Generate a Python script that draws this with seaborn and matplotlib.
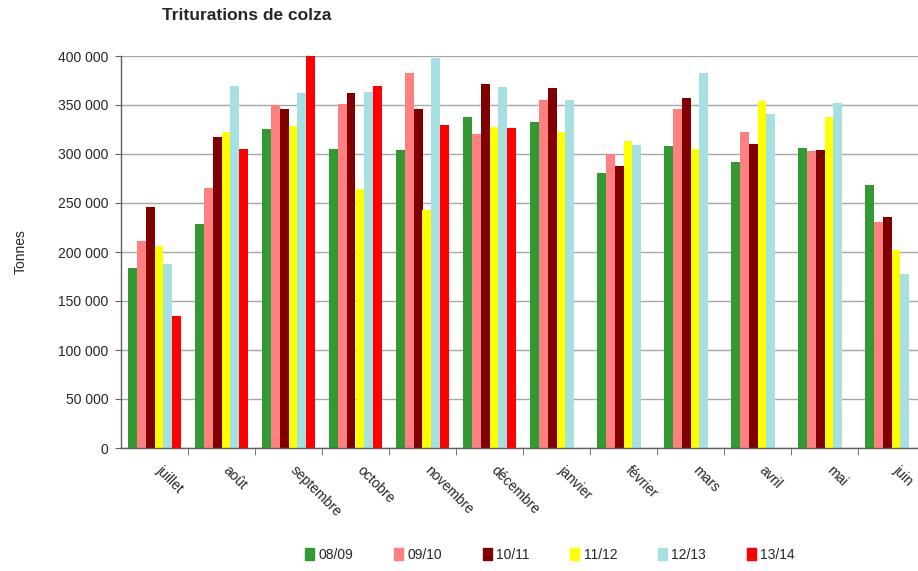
import matplotlib
matplotlib.use("Agg")
import matplotlib.pyplot as plt
import matplotlib.ticker as mticker
import matplotlib.transforms as mtransforms
import seaborn as sns
import pandas as pd
import numpy as np

months = ['juillet', 'août', 'septembre', 'octobre', 'novembre', 'décembre',
          'janvier', 'février', 'mars', 'avril', 'mai', 'juin']
seasons = ['08/09', '09/10', '10/11', '11/12', '12/13', '13/14']

v0809 = [183300, 228700, 325300, 304800, 304100, 337600, 332400, 280600, 307900, 292200, 305800, 268600]
v0910 = [211600, 265500, 350200, 350900, 382300, 320800, 354600, 300000, 346400, 322200, 303400, 231100]
v1011 = [246100, 317800, 346400, 361800, 346400, 371000, 366900, 288100, 356700, 310600, 304500, 235900]
v1112 = [206100, 322900, 329000, 264500, 243000, 328000, 322900, 313700, 305500, 353600, 338200, 202100]
v1213 = [187700, 369000, 361800, 362800, 397600, 367900, 354600, 309600, 382300, 341300, 351600, 177500]
v1314 = [134500, 305500, 401700, 369000, 330000, 327000]

colors = ['#339933', '#FF8080', '#800000', '#FFFF00', '#A6E0E3', '#FF0000']

series = [v0809, v0910, v1011, v1112, v1213, v1314]
rows = []
for s, vals in zip(seasons, series):
    for m, v in zip(months, vals):
        rows.append({'mois': m, 'campagne': s, 'tonnes': v})
df = pd.DataFrame(rows)

sns.set_style("white")
plt.rcParams['font.family'] = ['Liberation Sans', 'DejaVu Sans']

fig = plt.figure(figsize=(9.18, 5.71), dpi=100)
ax = fig.add_axes([121 / 918, 123 / 571, 804 / 918, 392 / 571])

sns.barplot(data=df, x='mois', y='tonnes', hue='campagne', order=months,
            hue_order=seasons, palette=colors, width=0.8, saturation=1,
            linewidth=0, ax=ax, legend=False, errorbar=None)

ax.set_ylim(0, 400000)
ax.set_xlim(-0.5, 11.5)
ax.yaxis.set_major_locator(mticker.MultipleLocator(50000))
ax.yaxis.set_major_formatter(mticker.FuncFormatter(
    lambda v, p: f"{int(v):,}".replace(',', ' ')))
ax.grid(axis='y', color='#a8a8a8', lw=1)
ax.set_axisbelow(True)
for s in ['top', 'right']:
    ax.spines[s].set_visible(False)
for s in ['left', 'bottom']:
    ax.spines[s].set_color('#606060')
    ax.spines[s].set_linewidth(1)

ax.tick_params(axis='y', labelsize=10, length=4, left=True, color='#606060', pad=5)
ax.set_xticks(np.arange(12))
ax.set_xticks(np.arange(12) + 0.5, minor=True)
ax.tick_params(axis='x', which='major', length=0, pad=11)
ax.tick_params(axis='x', which='minor', length=5, bottom=True, color='#606060')
ax.set_xticklabels(months, rotation=-45, ha='left', va='top',
                   rotation_mode='anchor', fontsize=10)
shift = mtransforms.ScaledTranslation(9 / 100, 0, fig.dpi_scale_trans)
for lab in ax.get_xticklabels():
    lab.set_transform(lab.get_transform() + shift)

ax.set_xlabel('')
ax.set_ylabel('Tonnes', fontsize=10, labelpad=22)

fig.text(162 / 918, 1 - 16 / 571, 'Triturations de colza', fontsize=12.5,
         fontweight='bold', va='center', ha='left')

handles = [plt.Rectangle((0, 0), 1, 1, color=c) for c in colors]
fig.legend(handles, seasons, loc='center', bbox_to_anchor=(550 / 918, 1 - 555 / 571),
           ncol=6, frameon=False, fontsize=10, handlelength=0.65, handleheight=0.9,
           handletextpad=0.3, columnspacing=2.95)

fig.savefig('out.png', dpi=100)
